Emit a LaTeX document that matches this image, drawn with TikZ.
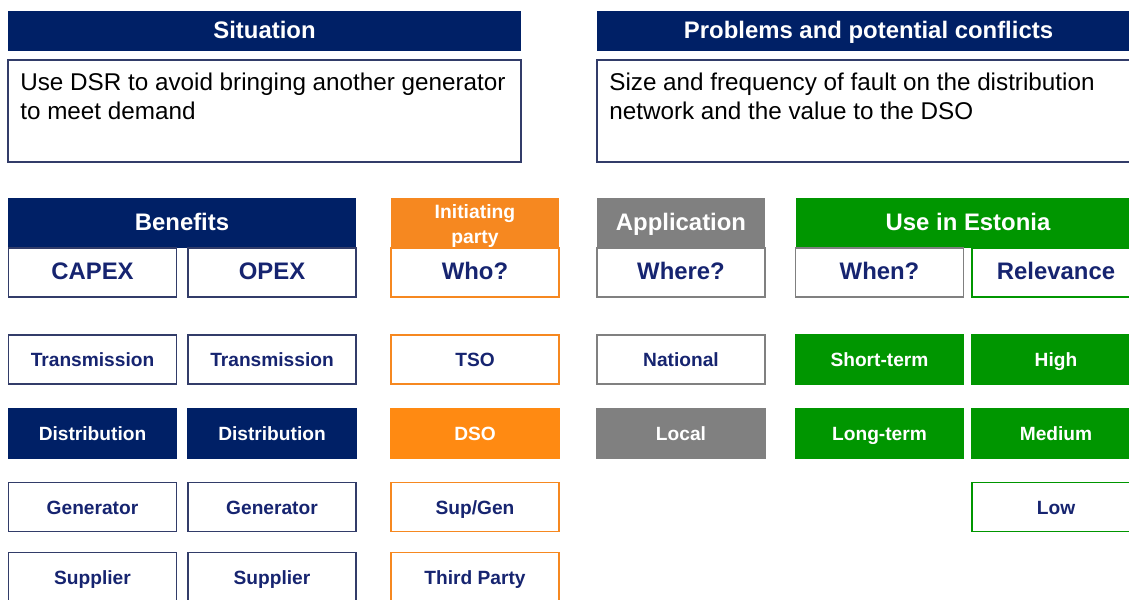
\documentclass[tikz,border=0pt]{standalone}
\usepackage{fontspec}
\setmainfont{Liberation Sans}
\usepackage{tikz}

\definecolor{navy}{RGB}{0,32,102}
\definecolor{cellblue}{RGB}{22,36,112}
\definecolor{boxline}{RGB}{50,60,105}
\definecolor{orangehead}{RGB}{246,136,32}
\definecolor{orangefill}{RGB}{255,138,18}
\definecolor{greyfill}{RGB}{128,128,128}
\definecolor{greenfill}{RGB}{0,150,0}

\begin{document}
\begin{tikzpicture}[x=0.02cm,y=-0.02cm,
    title bar/.style={rectangle,inner sep=0pt,minimum height=0.8cm,fill=navy,text=white,text height=1em,text depth=0.1em,font=\fontsize{13.6}{16}\selectfont\bfseries},
    text box/.style={rectangle,draw=boxline,line width=0.8pt,minimum height=2.04cm},
    body text/.style={anchor=north west,inner sep=0pt,align=left,font=\fontsize{13.8}{16.4}\selectfont},
    group head/.style={rectangle,inner sep=0pt,minimum height=1cm,text=white,font=\fontsize{13.6}{16}\selectfont\bfseries},
    sub head/.style={rectangle,draw,line width=0.8pt,fill=white,inner sep=0pt,minimum width=3.36cm,minimum height=0.98cm,text height=0.95em,text depth=0.1em,text=cellblue,font=\fontsize{13.6}{16}\selectfont\bfseries},
    main cell/.style={rectangle,draw,line width=0.8pt,inner sep=0pt,minimum width=3.36cm,minimum height=0.98cm,text height=0.95em,text depth=0.1em,font=\fontsize{10.9}{13}\selectfont\bfseries},
    white cell/.style={main cell,fill=white,text=cellblue},
    solid cell/.style={main cell,text=white}]

    \useasboundingbox (0,0) rectangle (1129,599);

    % situation and problems
    \node[title bar,minimum width=10.26cm] (sit) at (264.5,31) {Situation};
    \node[text box,minimum width=10.26cm] (sitbox) at (264.5,111) {};
    \node[body text] (sittxt) at (20,73) {Use DSR to avoid bringing another generator\\to meet demand};

    \node[title bar,minimum width=10.86cm] (prob) at (868.5,31) {Problems and potential conflicts};
    \node[text box,minimum width=10.86cm] (probbox) at (868.5,111) {};
    \node[body text] (probtxt) at (609,73) {Size and frequency of fault on the distribution\\network and the value to the DSO};

    % group headers
    \node[group head,fill=navy,minimum width=6.96cm,text height=0.95em,text depth=0.1em] (benefits) at (182,223) {Benefits};
    \node[group head,fill=orangehead,minimum width=3.36cm,align=center,
        font=\fontsize{11}{14.5}\selectfont\bfseries] (party) at (475,223) {\rule{0pt}{11.6pt}Initiating\\party};
    \node[group head,fill=greyfill,minimum width=3.36cm,text height=0.95em,text depth=0.1em] (appl) at (681,223) {Application};
    \node[group head,fill=greenfill,minimum width=6.88cm,text height=0.95em,text depth=0.1em] (estonia) at (968,223) {Use in Estonia};

    \node[sub head,draw=boxline] (capex) at (92.5,272.5) {CAPEX};
    \node[sub head,draw=boxline] (opex) at (272,272.5) {OPEX};
    \node[sub head,draw=orangehead] (who) at (475,272.5) {Who?};
    \node[sub head,draw=greyfill] (where) at (681,272.5) {Where?};
    \node[sub head,draw=greyfill] (when) at (879.5,272.5) {When?};
    \node[sub head,draw=greenfill] (relev) at (1056,272.5) {Relevance};

    % capex column
    \node[white cell,draw=boxline] (c1) at (92.5,359.5) {Transmission};
    \node[solid cell,fill=navy,draw=navy] (c2) at (92.5,433.5) {Distribution};
    \node[white cell,draw=boxline] (c3) at (92.5,507) {Generator};
    \node[white cell,draw=boxline] (c4) at (92.5,577) {Supplier};

    % opex column
    \node[white cell,draw=boxline] (o1) at (272,359.5) {Transmission};
    \node[solid cell,fill=navy,draw=navy] (o2) at (272,433.5) {Distribution};
    \node[white cell,draw=boxline] (o3) at (272,507) {Generator};
    \node[white cell,draw=boxline] (o4) at (272,577) {Supplier};

    % who column
    \node[white cell,draw=orangehead] (w1) at (475,359.5) {TSO};
    \node[solid cell,fill=orangefill,draw=orangefill] (w2) at (475,433.5) {DSO};
    \node[white cell,draw=orangehead] (w3) at (475,507) {Sup/Gen};
    \node[white cell,draw=orangehead] (w4) at (475,577) {Third Party};

    % where column
    \node[white cell,draw=greyfill] (a1) at (681,359.5) {National};
    \node[solid cell,fill=greyfill,draw=greyfill] (a2) at (681,433.5) {Local};

    % when and relevance columns
    \node[solid cell,fill=greenfill,draw=greenfill] (t1) at (879.5,359.5) {Short-term};
    \node[solid cell,fill=greenfill,draw=greenfill] (t2) at (879.5,433.5) {Long-term};
    \node[solid cell,fill=greenfill,draw=greenfill] (r1) at (1056,359.5) {High};
    \node[solid cell,fill=greenfill,draw=greenfill] (r2) at (1056,433.5) {Medium};
    \node[white cell,draw=greenfill] (r3) at (1056,507) {Low};

\end{tikzpicture}
\end{document}
